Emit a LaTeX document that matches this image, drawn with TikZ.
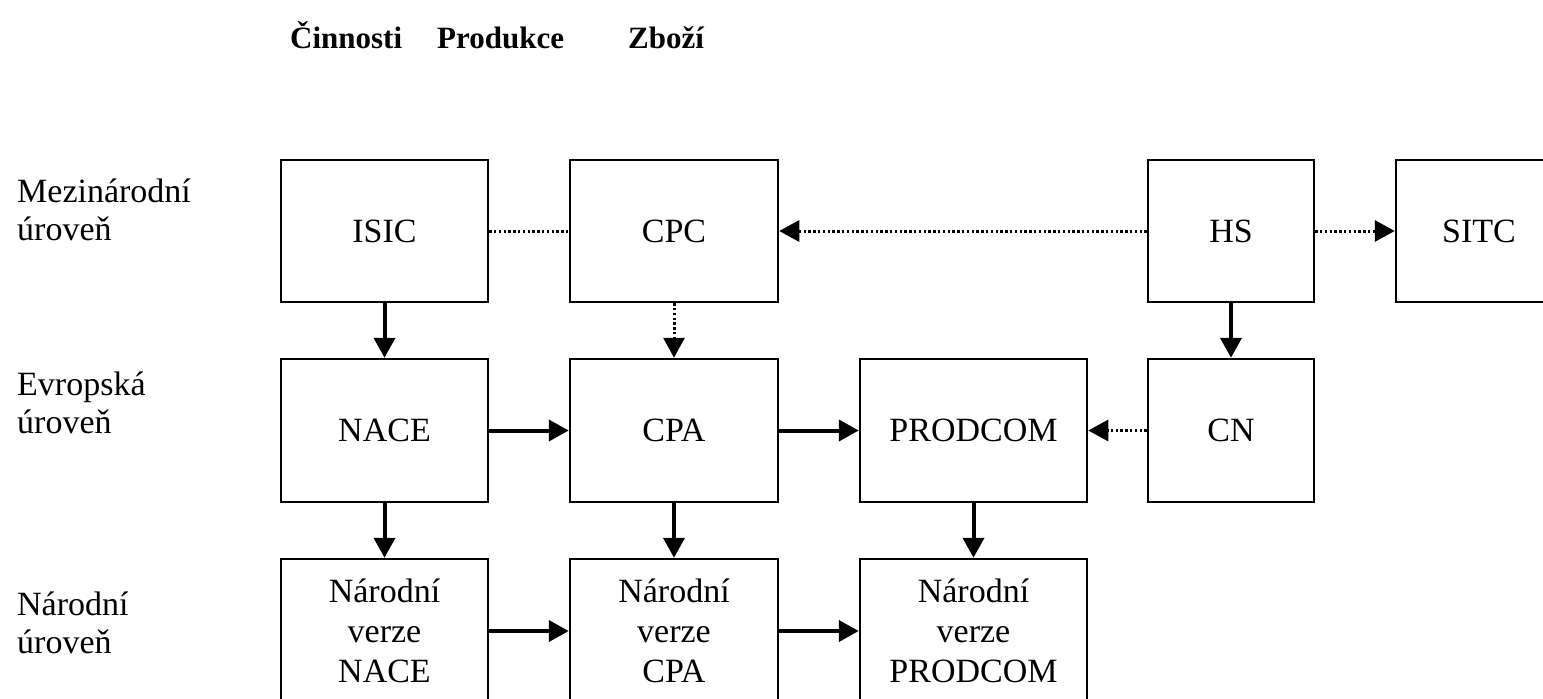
\documentclass[tikz,border=0pt]{standalone}
\usepackage{fontspec}
\setmainfont{Liberation Serif}
\usetikzlibrary{arrows.meta}
\begin{document}
\begin{tikzpicture}[x=1pt,y=-1pt,
  box/.style={draw, line width=2.5pt, rectangle, inner sep=0pt, align=center,
    font=\fontsize{34}{40}\selectfont},
  lbl/.style={anchor=base west, align=left, inner sep=0pt,
    font=\fontsize{34}{38}\selectfont},
  hdr/.style={anchor=base west, inner sep=0pt, font=\fontsize{31}{36}\selectfont\bfseries},
  solidarr/.style={line width=4pt, -{Triangle[length=20pt,width=21pt]}},
  dotarr/.style={line width=3pt, dash pattern=on 2.4pt off 2.4pt, -{Triangle[length=20pt,width=21pt]}},
  dotline/.style={line width=3pt, dash pattern=on 2.4pt off 2.4pt}
]
\useasboundingbox (0,0) rectangle (1543,699);
% headers
\node[hdr] (h1) at (290,48) {Činnosti};
\node[hdr] (h2) at (437,48) {Produkce};
\node[hdr] (h3) at (628,48) {Zboží};
% level labels (base = last line)
\node[lbl] (l1) at (17,240) {Mezinárodní\\úroveň};
\node[lbl] (l2) at (17,433) {Evropská\\úroveň};
\node[lbl] (l3) at (17,653) {Národní\\úroveň};
% row 1
\node[box, minimum width=207pt, minimum height=142pt] (isic) at (384.5,231) {ISIC};
\node[box, minimum width=208pt, minimum height=142pt] (cpc) at (674,231) {CPC};
\node[box, minimum width=166pt, minimum height=142pt] (hs) at (1231,231) {HS};
\node[box, minimum width=166pt, minimum height=142pt] (sitc) at (1479,231) {SITC};
% row 2
\node[box, minimum width=207pt, minimum height=143pt] (nace) at (384.5,430.5) {NACE};
\node[box, minimum width=208pt, minimum height=143pt] (cpa) at (674,430.5) {CPA};
\node[box, minimum width=227pt, minimum height=143pt] (prodcom) at (973.5,430.5) {PRODCOM};
\node[box, minimum width=166pt, minimum height=143pt] (cn) at (1231,430.5) {CN};
% row 3
\node[box, minimum width=207pt, minimum height=144pt] (nnace) at (384.5,631) {Národní\\verze\\NACE};
\node[box, minimum width=208pt, minimum height=144pt] (ncpa) at (674,631) {Národní\\verze\\CPA};
\node[box, minimum width=227pt, minimum height=144pt] (nprodcom) at (973.5,631) {Národní\\verze\\PRODCOM};
% connectors row 1
\draw[dotline] (isic.east) -- (cpc.west);
\draw[dotarr] (hs.west) -- (cpc.east);
\draw[dotarr] (hs.east) -- (sitc.west);
% vertical 1->2
\draw[solidarr] (isic.south) -- (nace.north);
\draw[dotarr] (cpc.south) -- (cpa.north);
\draw[solidarr] (hs.south) -- (cn.north);
% row 2
\draw[solidarr] (nace.east) -- (cpa.west);
\draw[solidarr] (cpa.east) -- (prodcom.west);
\draw[dotarr] (cn.west) -- (prodcom.east);
% vertical 2->3
\draw[solidarr] (nace.south) -- (nnace.north);
\draw[solidarr] (cpa.south) -- (ncpa.north);
\draw[solidarr] (prodcom.south) -- (nprodcom.north);
% row 3
\draw[solidarr] (nnace.east) -- (ncpa.west);
\draw[solidarr] (ncpa.east) -- (nprodcom.west);
\end{tikzpicture}
\end{document}
